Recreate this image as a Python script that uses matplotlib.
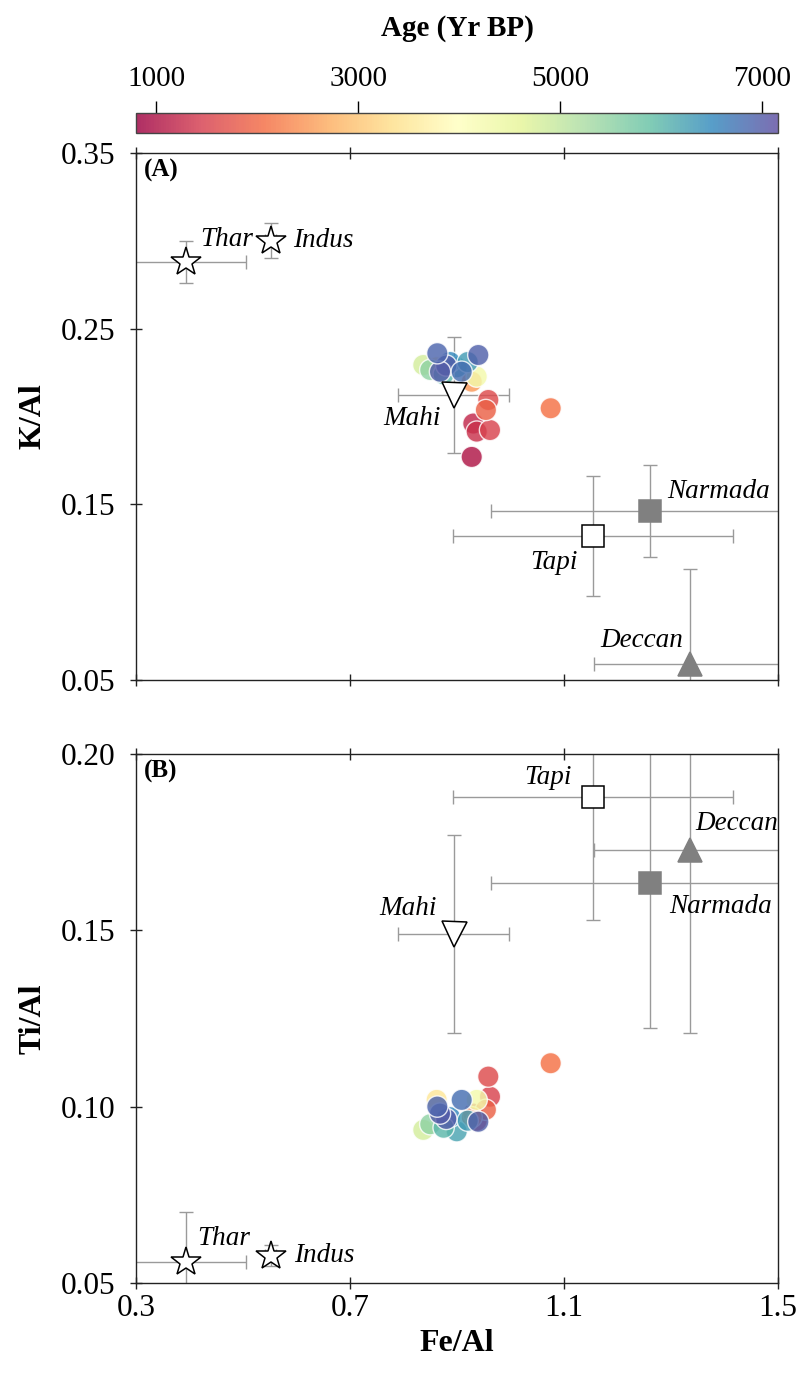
import numpy as np
import matplotlib
matplotlib.use("Agg")
import matplotlib.pyplot as plt
from matplotlib.colors import Normalize

plt.rcParams['font.family'] = ['Liberation Serif', 'DejaVu Serif']

# ---- sediment samples (Fe/Al, K/Al, Ti/Al, age) ----
fe_al = [0.9275, 0.9305, 0.9368, 0.9617, 0.9585, 0.9540, 1.0751, 0.9275,
         0.8620, 0.9368, 0.8370, 0.8500, 0.8995, 0.8870, 0.9200, 0.8750,
         0.8800, 0.9088, 0.8682, 0.9398, 0.8632]
k_al = [0.1770, 0.1960, 0.1914, 0.1923, 0.2094, 0.2037, 0.2047, 0.2198,
        0.2280, 0.2227, 0.2293, 0.2265, 0.2280, 0.2310, 0.2310, 0.2240,
        0.2290, 0.2255, 0.2255, 0.2350, 0.2360]
ti_al = [0.0970, 0.0980, 0.0960, 0.1028, 0.1085, 0.0991, 0.1123, 0.0970,
         0.1019, 0.1019, 0.0934, 0.0950, 0.0930, 0.0970, 0.0960, 0.0940,
         0.0965, 0.1019, 0.0980, 0.0957, 0.1000]
age = [1000, 1200, 1300, 1500, 1600, 1900, 2100, 2500,
       3500, 4300, 4800, 5500, 6200, 6500, 6300, 6000,
       7000, 6800, 7000, 6950, 6900]

# ---- source end-members ----
src_names = ['Thar', 'Indus', 'Mahi', 'Tapi', 'Narmada', 'Deccan']
src_fe = [0.3935, 0.552, 0.8935, 1.154, 1.261, 1.3355]
src_fe_err = [0.113, 0.010, 0.104, 0.262, 0.298, 0.180]
src_k = [0.288, 0.300, 0.2124, 0.132, 0.1462, 0.059]
src_k_err = [0.012, 0.010, 0.033, 0.034, 0.026, 0.054]
src_ti = [0.0560, 0.0577, 0.1490, 0.1878, 0.1633, 0.1728]
src_ti_err = [0.014, 0.003, 0.028, 0.035, 0.041, 0.052]
src_marker = ['*', '*', 'v', 's', 's', '^']
src_face = ['white', 'white', 'white', 'white', '#808080', '#808080']
src_edge = ['black', 'black', 'black', 'black', '#808080', '#808080']
src_ms = [22, 22, 18, 16, 16.5, 17]

# label offsets (points) and alignment per panel
offA = {'Thar': (10, 16, 'left'), 'Indus': (16, 0, 'left'), 'Mahi': (-9, -17, 'right'),
        'Tapi': (-11, -19, 'right'), 'Narmada': (12, 14, 'left'), 'Deccan': (-5, 17, 'right')}
offB = {'Thar': (8, 17, 'left'), 'Indus': (17, 0, 'left'), 'Mahi': (-12, 18, 'right'),
        'Tapi': (-15, 14, 'right'), 'Narmada': (14, -17, 'left'), 'Deccan': (4, 19, 'left')}

xticks = [0.3, 0.7, 1.1, 1.5]
ytA = [0.05, 0.15, 0.25, 0.35]
ytB = [0.05, 0.10, 0.15, 0.20]
cbticks = [1000, 3000, 5000, 7000]

fig = plt.figure(figsize=(8, 13.73), dpi=100)
cax = fig.add_axes([0.17, 0.9031, 0.8025, 0.01457])
axA = fig.add_axes([0.17, 0.5047, 0.8025, 0.3839])
axB = fig.add_axes([0.17, 0.0656, 0.8025, 0.3853])

norm = Normalize(vmin=800, vmax=7160)
cmap = plt.get_cmap('Spectral')

def draw(ax, yvals, src_y, src_yerr, offs, panel):
    sc = ax.scatter(fe_al, yvals, c=age, cmap=cmap, norm=norm, s=235, alpha=0.82,
                    edgecolors='white', linewidths=1.0, zorder=3)
    for i, name in enumerate(src_names):
        ax.errorbar(src_fe[i], src_y[i], xerr=src_fe_err[i], yerr=src_yerr[i],
                    fmt='none', ecolor='#9a9a9a', elinewidth=1.0, capsize=5,
                    capthick=1.0, zorder=2)
        ax.plot(src_fe[i], src_y[i], marker=src_marker[i], ms=src_ms[i],
                mfc=src_face[i], mec=src_edge[i], mew=1.1, ls='none', zorder=4)
        dx, dy, ha = offs[name]
        ax.annotate(name, (src_fe[i], src_y[i]), xytext=(dx, dy),
                    textcoords='offset points', ha=ha, va='center',
                    fontsize=19.5, style='italic', zorder=5)
    ax.set_xlim(0.3, 1.5)
    ax.set_xticks(xticks)
    ax.text(0.012, 0.988, panel, transform=ax.transAxes, ha='left', va='top',
            fontsize=18, fontweight='bold')
    for sp in ax.spines.values():
        sp.set_linewidth(1.0)
        sp.set_color('#222222')
    ax.tick_params(direction='inout', length=9, width=1.0, labelsize=22.5,
                   top=True, color='#222222')
    ax.tick_params(axis='y', pad=10)
    return sc

sc = draw(axA, k_al, src_k, src_k_err, offA, '(A)')
axA.set_ylim(0.05, 0.35)
axA.set_yticks(ytA)
axA.set_yticklabels(['0.05', '0.15', '0.25', '0.35'])
axA.tick_params(labelbottom=False)
axA.set_ylabel('K/Al', fontsize=23, fontweight='bold', labelpad=10)

draw(axB, ti_al, src_ti, src_ti_err, offB, '(B)')
axB.set_ylim(0.05, 0.20)
axB.set_yticks(ytB)
axB.set_yticklabels(['0.05', '0.10', '0.15', '0.20'])
axB.set_xticklabels(['0.3', '0.7', '1.1', '1.5'])
axB.set_ylabel('Ti/Al', fontsize=23, fontweight='bold', labelpad=10)
axB.set_xlabel('Fe/Al', fontsize=23, fontweight='bold', labelpad=4)

cb = fig.colorbar(sc, cax=cax, orientation='horizontal', ticklocation='top')
cb.set_ticks(cbticks)
cb.ax.tick_params(labelsize=21, length=9, width=1.0, pad=6)
cb.outline.set_linewidth(1.0)
cb.outline.set_edgecolor('#444444')
cb.set_label('Age (Yr BP)', fontsize=21, fontweight='bold', labelpad=22)

fig.savefig('out.png', dpi=100)
